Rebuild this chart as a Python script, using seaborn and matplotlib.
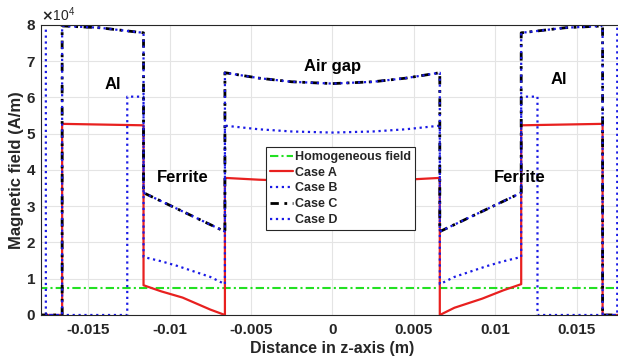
import numpy as np
import pandas as pd
import matplotlib
matplotlib.use("Agg")
import matplotlib.pyplot as plt
import matplotlib.ticker as mticker
import seaborn as sns

# values (field in units of 1e4 A/m)
x_homog = [-0.018, 0.018]
y_homog = [0.74, 0.74]

x_a = [-0.018, -0.0166, -0.0166, -0.0116, -0.0116, -0.0105, -0.0092, -0.0075, -0.0066,
       -0.0066, -0.0045, -0.0025, 0.0, 0.0025, 0.0045, 0.0066,
       0.0066, 0.0075, 0.0092, 0.0105, 0.0116, 0.0116, 0.0166, 0.0166, 0.018]
y_a = [0.0, 0.0, 5.27, 5.23, 0.82, 0.65, 0.48, 0.15, 0.0,
       3.78, 3.73, 3.70, 3.68, 3.70, 3.73, 3.78,
       0.0, 0.2, 0.45, 0.68, 0.85, 5.23, 5.27, 0.0, 0.0]

x_b = [-0.018, -0.0176, -0.0176, -0.0126, -0.0126, -0.0116, -0.0116, -0.0105, -0.0095,
       -0.0085, -0.0075, -0.0066, -0.0066, -0.0045, -0.0025, 0.0, 0.0025, 0.0045, 0.0066,
       0.0066, 0.0075, 0.0085, 0.0095, 0.0105, 0.0116, 0.0116, 0.0126, 0.0126, 0.0175,
       0.0175, 0.018]
y_b = [8.5, 8.5, 0.0, 0.0, 6.02, 6.02, 1.6, 1.48, 1.35,
       1.2, 1.05, 0.85, 5.22, 5.12, 5.06, 5.03, 5.06, 5.12, 5.22,
       0.85, 1.05, 1.2, 1.35, 1.48, 1.6, 6.02, 6.02, 0.0, 0.0,
       8.5, 8.5]

x_c = [-0.018, -0.0166, -0.0166, -0.0143, -0.0116, -0.0116, -0.0066,
       -0.0066, -0.0045, -0.0025, 0.0, 0.0025, 0.0045, 0.0066,
       0.0066, 0.0116, 0.0116, 0.0143, 0.0166, 0.0166, 0.018]
y_c = [0.0, 0.0, 7.97, 7.92, 7.78, 3.37, 2.30,
       6.68, 6.53, 6.43, 6.38, 6.43, 6.53, 6.68,
       2.30, 3.37, 7.78, 7.92, 7.97, 0.0, 0.0]

x_d = [-0.018, -0.0166, -0.0166, -0.0143, -0.0116, -0.0116, -0.0066,
       -0.0066, -0.0045, -0.0025, 0.0, 0.0025, 0.0045, 0.0066,
       0.0066, 0.0116, 0.0116, 0.0143, 0.0166, 0.0166, 0.018]
y_d = [0.0, 0.0, 7.97, 7.92, 7.78, 3.37, 2.30,
       6.68, 6.53, 6.43, 6.38, 6.43, 6.53, 6.68,
       2.30, 3.37, 7.78, 7.92, 7.97, 0.0, 0.0]

region_labels = ["Al", "Ferrite", "Air gap", "Ferrite", "Al"]
region_x = [-0.0135, -0.0092, 0.0, 0.0115, 0.0139]
region_y = [6.35, 3.8, 6.85, 3.8, 6.5]

sns.set_style("white")
plt.rcParams['font.family'] = ['Liberation Sans', 'DejaVu Sans']
plt.rcParams['font.weight'] = 'bold'

fig = plt.figure(figsize=(6.18, 3.6), dpi=100)
ax = fig.add_axes([0.0663, 0.125, 0.943, 0.806])

series = [
    (x_homog, y_homog, 'Homogeneous field', '#22e022', (0, (4, 1.5, 1, 1.5)), 1.5),
    (x_a, y_a, 'Case A', '#e8201f', '-', 1.6),
    (x_b, y_b, 'Case B', '#1a1ae6', ':', 1.6),
    (x_c, y_c, 'Case C', 'black', (0, (3, 2, 1, 2)), 2.0),
    (x_d, y_d, 'Case D', '#1a1ae6', ':', 1.6),
]
for xs, ys, name, col, ls, lw in series:
    df = pd.DataFrame({'z': xs, 'H': np.array(ys) * 1e4})
    sns.lineplot(data=df, x='z', y='H', ax=ax, sort=False, estimator=None,
                 color=col, linestyle=ls, linewidth=lw, label=name)

ax.set_xlim(-0.0179, 0.0179)
ax.set_ylim(0, 8e4)
ax.set_xticks([-0.015, -0.01, -0.005, 0, 0.005, 0.01, 0.015])
ax.set_xticklabels(['-0.015', '-0.01', '-0.005', '0', '0.005', '0.01', '0.015'])
fmt = mticker.ScalarFormatter(useMathText=True)
fmt.set_powerlimits((0, 0))
ax.yaxis.set_major_formatter(fmt)
ax.yaxis.get_offset_text().set_fontweight('normal')
ax.yaxis.get_offset_text().set_fontsize(10)
ax.yaxis.get_offset_text().set_color('#262626')

ax.grid(True, color='#e4e4e4', linewidth=0.8)
ax.set_axisbelow(True)
for s in ax.spines.values():
    s.set_color('#262626')
    s.set_linewidth(0.8)
ax.tick_params(axis='both', labelsize=11, colors='#262626', length=3, direction='in')
ax.tick_params(axis='x', pad=6)
ax.set_xlabel('Distance in z-axis (m)', fontsize=11.5, fontweight='bold', color='#262626', labelpad=3)
ax.set_ylabel('Magnetic field (A/m)', fontsize=12, fontweight='bold', color='#262626', labelpad=1)

for lab, tx, ty in zip(region_labels, region_x, region_y):
    ax.text(tx, ty * 1e4, lab, ha='center', va='center', fontsize=12, fontweight='bold', color='black')

leg = ax.legend(loc='upper left', bbox_to_anchor=(0.375, 0.6), fontsize=9,
                frameon=True, fancybox=False, framealpha=1, edgecolor='#262626',
                handlelength=1.9, handletextpad=0.15, labelspacing=0.3, borderpad=0.3)
leg.get_frame().set_linewidth(0.8)

fig.savefig('out.png', dpi=100)
